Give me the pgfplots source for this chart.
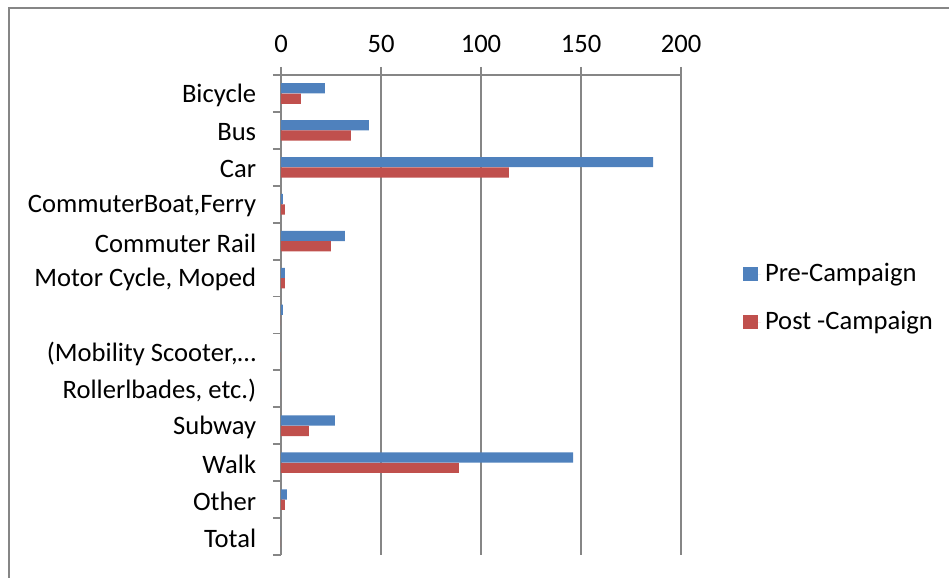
\documentclass[border=0pt]{standalone}
\usepackage{fontspec}
\setmainfont{Carlito}
\usepackage{pgfplots}
\pgfplotsset{compat=1.18}
\definecolor{preblue}{HTML}{4F81BD}
\definecolor{postred}{HTML}{C0504D}
\definecolor{axisgray}{HTML}{868686}
\newcommand{\lbl}{\fontsize{13.3}{16}\selectfont}
\begin{document}
\begin{tikzpicture}
\useasboundingbox (0,0) rectangle (474.5pt,289pt);
\draw[axisgray, line width=1pt] (4.5pt,0) -- (4.5pt,285pt) -- (474.5pt,285pt);
\begin{axis}[
    at={(140.5pt,11.5pt)}, anchor=south west,
    scale only axis,
    width=200pt, height=240pt,
    xbar, bar width=5.1pt,
    xmin=0, xmax=200,
    ymin=-0.5, ymax=12.5,
    axis x line*=top, axis y line*=left,
    axis line style={draw=axisgray, line width=0.9pt, -},
    xtick={0,50,100,150,200},
    ytick={0,...,12},
    yticklabels={Total, Other, Walk, Subway, {Rollerlbades, etc.)}, {(Mobility Scooter,…}, {}, {Motor Cycle, Moped}, Commuter Rail, {CommuterBoat,Ferry}, Car, Bus, Bicycle},
    minor ytick={-0.5,0.5,...,12.5},
    tick align=outside,
    major tick length=4pt, minor tick length=4pt,
    xtick style={draw=axisgray, line width=0.9pt},
    major y tick style={draw=none},
    minor y tick style={draw=axisgray, line width=0.9pt},
    xmajorgrids,
    grid style={draw=axisgray, line width=0.9pt},
    tick label style={font=\lbl, text=black},
    /pgf/number format/assume math mode=true,
    xticklabel style={yshift=3.5pt},
    yticklabel style={xshift=-4.9pt, yshift=-0.9pt},
    legend style={at={(1.155,0.535)}, anchor=west, draw=none, fill=none,
        inner sep=0pt, font=\lbl, row sep=9.5pt},
    legend cell align=left,
    legend image code/.code={\fill[#1] (0pt,-3.5pt) rectangle (7.3pt,3.5pt); \path (0pt,0pt) -- (8.8pt,0pt);},
]
\addplot[fill=preblue, draw=none, bar shift=2.6pt] coordinates {
    (22,12) (44,11) (186,10) (1,9) (32,8) (2,7) (1,6)
    (0,5) (0,4) (27,3) (146,2) (3,1) (0,0)
};
\addlegendentry{Pre-Campaign}
\addplot[fill=postred, draw=none, bar shift=-2.6pt] coordinates {
    (10,12) (35,11) (114,10) (2,9) (25,8) (2,7) (0,6)
    (0,5) (0,4) (14,3) (89,2) (2,1) (0,0)
};
\addlegendentry{Post -Campaign}
\end{axis}
\end{tikzpicture}
\end{document}
